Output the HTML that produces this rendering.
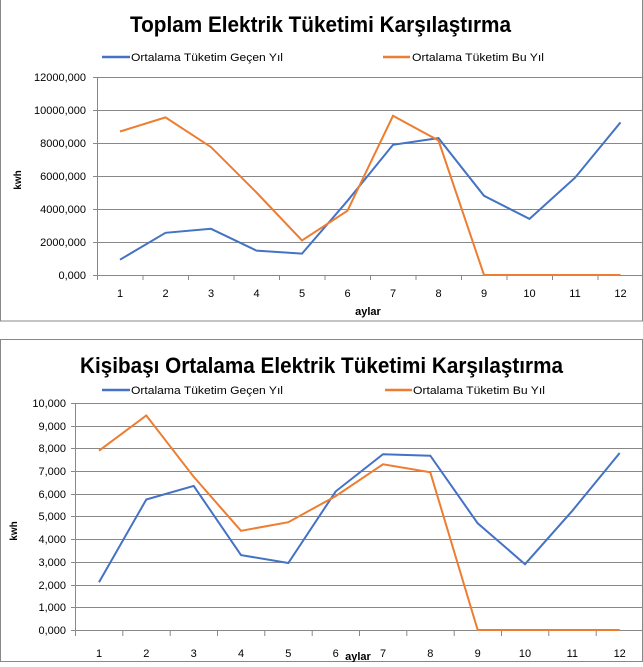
<!DOCTYPE html>
<html><head><meta charset="utf-8"><style>
body{margin:0;background:#fff;width:643px;height:662px;overflow:hidden}
text{font-family:"Liberation Sans",sans-serif;fill:#000}
</style></head><body>
<svg width="643" height="662" xmlns="http://www.w3.org/2000/svg">
<rect x="0.5" y="-1" width="642" height="322" fill="none" stroke="#888" stroke-width="1"/>
<rect x="0.5" y="339.5" width="642" height="322" fill="none" stroke="#888" stroke-width="1"/>
<g id="c1">
<text x="130" y="32" font-size="22" font-weight="bold" textLength="381" lengthAdjust="spacingAndGlyphs">Toplam Elektrik Tüketimi Karşılaştırma</text>
<line x1="102" y1="57" x2="130" y2="57" stroke="#4472c4" stroke-width="2.5"/>
<text x="131" y="61" font-size="11" textLength="152" lengthAdjust="spacingAndGlyphs">Ortalama Tüketim Geçen Yıl</text>
<line x1="383" y1="57" x2="410" y2="57" stroke="#ed7d31" stroke-width="2.5"/>
<text x="412" y="61" font-size="11" textLength="132" lengthAdjust="spacingAndGlyphs">Ortalama Tüketim Bu Yıl</text>
<g stroke="#888" stroke-width="1">
<line x1="93" y1="77.5" x2="643" y2="77.5"/><line x1="93" y1="110.5" x2="643" y2="110.5"/><line x1="93" y1="143.5" x2="643" y2="143.5"/><line x1="93" y1="176.5" x2="643" y2="176.5"/><line x1="93" y1="209.5" x2="643" y2="209.5"/><line x1="93" y1="242.5" x2="643" y2="242.5"/><line x1="93" y1="275.5" x2="643" y2="275.5"/>
<line x1="97.5" y1="77" x2="97.5" y2="280"/>
</g>
<g stroke="#888"><path d="M143 275v5M188.5 275v5M234 275v5M279.5 275v5M325 275v5M370.5 275v5M416 275v5M461.5 275v5M507 275v5M552.5 275v5M598 275v5"/></g>
<g font-size="11" text-anchor="end"><text x="86" y="81">12000,000</text><text x="86" y="114">10000,000</text><text x="86" y="147">8000,000</text><text x="86" y="180">6000,000</text><text x="86" y="213">4000,000</text><text x="86" y="246">2000,000</text><text x="86" y="279">0,000</text></g>
<g font-size="11" text-anchor="middle"><text x="120" y="297">1</text><text x="165.5" y="297">2</text><text x="211" y="297">3</text><text x="256.5" y="297">4</text><text x="302" y="297">5</text><text x="347.5" y="297">6</text><text x="393" y="297">7</text><text x="438.5" y="297">8</text><text x="484" y="297">9</text><text x="529.5" y="297">10</text><text x="575" y="297">11</text><text x="620.5" y="297">12</text></g>
<text x="368" y="315" font-size="11" font-weight="bold" text-anchor="middle">aylar</text>
<text transform="translate(21,180) rotate(-90)" font-size="10" font-weight="bold" text-anchor="middle">kwh</text>
<polyline fill="none" stroke="#4472c4" stroke-width="2" points="120,259.7 165.5,232.8 211,228.8 256.5,250.6 302,253.6 347.5,200.8 393,144.8 438.5,138.1 484,195.8 529.5,218.9 575,177.7 620.5,122.4"/>
<polyline fill="none" stroke="#ed7d31" stroke-width="2" points="120,131.5 165.5,117.4 211,147.1 256.5,192.5 302,240.4 347.5,210.7 393,115.8 438.5,140.5 484,275 529.5,275 575,275 620.5,275"/>
</g>
<g id="c2">
<text x="80" y="373" font-size="22" font-weight="bold" textLength="483" lengthAdjust="spacingAndGlyphs">Kişibaşı Ortalama Elektrik Tüketimi Karşılaştırma</text>
<line x1="102" y1="390" x2="130" y2="390" stroke="#4472c4" stroke-width="2.5"/>
<text x="131" y="394" font-size="11" textLength="152" lengthAdjust="spacingAndGlyphs">Ortalama Tüketim Geçen Yıl</text>
<line x1="385" y1="390" x2="412" y2="390" stroke="#ed7d31" stroke-width="2.5"/>
<text x="413" y="394" font-size="11" textLength="132" lengthAdjust="spacingAndGlyphs">Ortalama Tüketim Bu Yıl</text>
<g stroke="#888" stroke-width="1">
<line x1="71" y1="403.5" x2="643" y2="403.5"/><line x1="71" y1="426.5" x2="643" y2="426.5"/><line x1="71" y1="448.5" x2="643" y2="448.5"/><line x1="71" y1="471.5" x2="643" y2="471.5"/><line x1="71" y1="494.5" x2="643" y2="494.5"/><line x1="71" y1="516.5" x2="643" y2="516.5"/><line x1="71" y1="539.5" x2="643" y2="539.5"/><line x1="71" y1="562.5" x2="643" y2="562.5"/><line x1="71" y1="585.5" x2="643" y2="585.5"/><line x1="71" y1="607.5" x2="643" y2="607.5"/><line x1="71" y1="630.5" x2="643" y2="630.5"/>
<line x1="75.5" y1="403" x2="75.5" y2="636"/>
<path d="M122.8 630v6M170.2 630v6M217.5 630v6M264.8 630v6M312.2 630v6M359.5 630v6M406.8 630v6M454.2 630v6M501.5 630v6M548.8 630v6M596.2 630v6"/>
</g>
<g font-size="11" text-anchor="end"><text x="66" y="407">10,000</text><text x="66" y="430">9,000</text><text x="66" y="452">8,000</text><text x="66" y="475">7,000</text><text x="66" y="498">6,000</text><text x="66" y="520">5,000</text><text x="66" y="543">4,000</text><text x="66" y="566">3,000</text><text x="66" y="589">2,000</text><text x="66" y="611">1,000</text><text x="66" y="634">0,000</text></g>
<g font-size="11" text-anchor="middle"><text x="99" y="657">1</text><text x="146.3" y="657">2</text><text x="193.7" y="657">3</text><text x="241" y="657">4</text><text x="288.3" y="657">5</text><text x="335.7" y="657">6</text><text x="383" y="657">7</text><text x="430.3" y="657">8</text><text x="477.7" y="657">9</text><text x="525" y="657">10</text><text x="572.3" y="657">11</text><text x="619.7" y="657">12</text></g>
<text x="358" y="660" font-size="11" font-weight="bold" text-anchor="middle">aylar</text>
<text transform="translate(17,531) rotate(-90)" font-size="10" font-weight="bold" text-anchor="middle">kwh</text>
<polyline fill="none" stroke="#4472c4" stroke-width="2" points="99,582.3 146.3,499.5 193.7,485.9 241,555.1 288.3,563 335.7,491.4 383,454.2 430.3,455.7 477.7,523.3 525,564.2 572.3,510.8 619.7,453"/>
<polyline fill="none" stroke="#ed7d31" stroke-width="2" points="99,450.7 146.3,415.5 193.7,476.8 241,530.8 288.3,522.2 335.7,496.1 383,464.3 430.3,472.3 477.7,630 525,630 572.3,630 619.7,630"/>
</g>
</svg>
</body></html>
